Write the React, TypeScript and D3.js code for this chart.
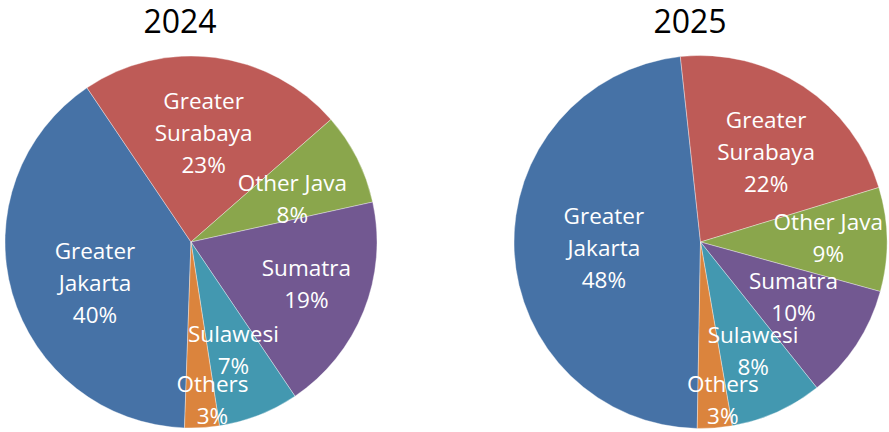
import React from "react";
import * as d3 from "d3";

const regions = ["Greater Jakarta", "Greater Surabaya", "Other Java", "Sumatra", "Sulawesi", "Others"];
const labelLines = [["Greater", "Jakarta"], ["Greater", "Surabaya"], ["Other Java"], ["Sumatra"], ["Sulawesi"], ["Others"]];
const years = ["2024", "2025"];
const values2024 = [40, 23, 8, 19, 7, 3];
const values2025 = [48, 22, 9, 10, 8, 3];
const colors = ["#4672A6", "#BE5B57", "#8AA64C", "#725891", "#4398B0", "#DB843D"];

// label nudges (layout only), per slice, in px
const nudges2024: [number, number][] = [[13, 10], [-2, 4], [0, 8], [10, 0], [1, 2], [2, -2]];
const nudges2025: [number, number][] = [[17, 1], [3, 5], [14, -2], [-2, -8], [6, 5], [0, -2]];

const W = 889;
const H = 432;

type PieSpec = { year: string; values: number[]; nudges: [number, number][]; cx: number; cy: number; r: number; start: number; titleX: number };

const pies: PieSpec[] = [
  { year: years[0], values: values2024, nudges: nudges2024, cx: 191, cy: 242, r: 186, start: 182, titleX: 180 },
  { year: years[1], values: values2025, nudges: nudges2025, cx: 700.5, cy: 242, r: 186.5, start: 181, titleX: 690 },
];

const FONT = "'Open Sans', sans-serif";

function Pie({ spec }: { spec: PieSpec }) {
  const startRad = (spec.start * Math.PI) / 180;
  const pieGen = d3
    .pie<number>()
    .sort(null)
    .value((d) => d)
    .startAngle(startRad)
    .endAngle(startRad + 2 * Math.PI);
  const arcs = pieGen(spec.values);
  const arcGen = d3.arc<d3.PieArcDatum<number>>().innerRadius(0).outerRadius(spec.r);
  const total = d3.sum(spec.values);
  const lineH = 32;
  return (
    <g>
      <text x={spec.titleX} y={33} textAnchor="middle" fontFamily={FONT} fontSize={32} fill="#000">
        {spec.year}
      </text>
      <g transform={`translate(${spec.cx},${spec.cy})`}>
        {arcs.map((a, i) => (
          <path key={regions[i]} d={arcGen(a) || ""} fill={colors[i]} stroke="#ffffff" strokeWidth={0.6} strokeOpacity={0.6} />
        ))}
        {arcs.map((a, i) => {
          const frac = a.value / total;
          const lr = frac < 0.05 ? spec.r * 0.86 : spec.r * 0.61;
          const [lx, ly] = d3.arc<d3.PieArcDatum<number>>().innerRadius(lr).outerRadius(lr).centroid(a);
          const lines = [...labelLines[i], `${Math.round(frac * 100)}%`];
          const offX = frac < 0.05 ? 10 : 0;
          const [nx, ny] = spec.nudges[i];
          const y0 = ly + ny - ((lines.length - 1) * lineH) / 2;
          return (
            <text key={"l" + regions[i]} textAnchor="middle" fontFamily={FONT} fontSize={22.5} fill="#fff">
              {lines.map((t, j) => (
                <tspan key={j} x={lx + offX + nx} y={y0 + j * lineH} dy="0.35em">
                  {t}
                </tspan>
              ))}
            </text>
          );
        })}
      </g>
    </g>
  );
}

export default function App() {
  return (
    <svg width={W} height={H} style={{ position: "absolute", left: 0, top: 0, display: "block", background: "#fff" }}>
      {pies.map((p) => (
        <Pie key={p.year} spec={p} />
      ))}
    </svg>
  );
}
